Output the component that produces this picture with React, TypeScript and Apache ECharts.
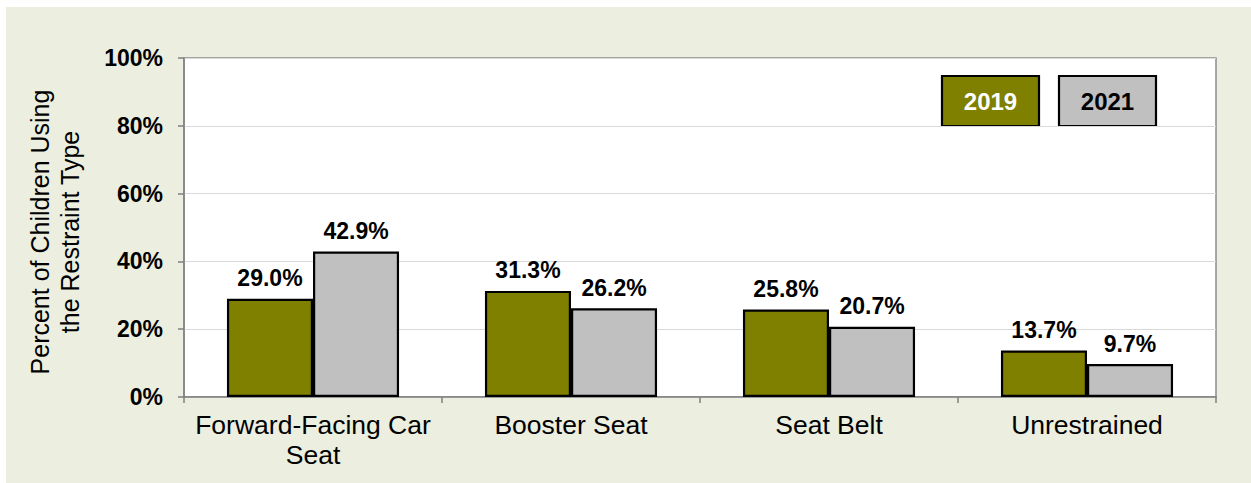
import React, { useEffect, useRef } from "react";
import * as echarts from "echarts";

const categories = ["Forward-Facing Car\nSeat", "Booster Seat", "Seat Belt", "Unrestrained"];
const seriesNames = ["2019", "2021"];
const values2019 = [29.0, 31.3, 25.8, 13.7];
const values2021 = [42.9, 26.2, 20.7, 9.7];
const yTicks = [0, 20, 40, 60, 80, 100];
const axisTitle = "Percent of Children Using\nthe Restraint Type";

const FONT = "'Liberation Sans', Arial, sans-serif";
const OLIVE = "#808000";
const GRAY = "#C0C0C0";

export default function App() {
  const ref = useRef<HTMLDivElement>(null);
  useEffect(() => {
    if (!ref.current) return;
    const chart = echarts.init(ref.current, undefined, { renderer: "svg" });
    const labelCfg = {
      show: true,
      position: "top",
      distance: 9,
      fontFamily: FONT,
      fontWeight: "bold",
      fontSize: 23,
      color: "#000",
      formatter: (p: any) => Number(p.value).toFixed(1) + "%",
    };
    chart.setOption({
      animation: false,
      backgroundColor: "#ECEEDF",
      grid: {
        left: 178,
        top: 51,
        right: 35,
        bottom: 86,
        show: true,
        backgroundColor: "#FFFFFF",
        borderColor: "#8C8C8C",
        borderWidth: 1.5,
      },
      xAxis: {
        type: "category",
        data: categories,
        axisLine: { show: true, lineStyle: { color: "#808080", width: 1.5 } },
        axisTick: { show: true, length: 6, alignWithLabel: false, lineStyle: { color: "#808080", width: 1.5 } },
        axisLabel: {
          fontFamily: FONT,
          fontSize: 26.5,
          color: "#000",
          margin: 13,
          lineHeight: 30,
          interval: 0,
        },
      },
      yAxis: {
        type: "value",
        min: yTicks[0],
        max: yTicks[yTicks.length - 1],
        interval: yTicks[1] - yTicks[0],
        axisLine: { show: true, lineStyle: { color: "#808080", width: 1.5 } },
        axisTick: { show: true, length: 6, lineStyle: { color: "#808080", width: 1.5 } },
        splitLine: { show: true, lineStyle: { color: "#D9D9D9", width: 1 } },
        axisLabel: {
          fontFamily: FONT,
          fontSize: 23,
          fontWeight: "bold",
          color: "#000",
          margin: 21,
          formatter: "{value}%",
        },
      },
      series: [
        {
          name: seriesNames[0],
          type: "bar",
          data: values2019,
          barGap: "0%",
          barCategoryGap: "33.3%",
          itemStyle: { color: OLIVE, borderColor: "#000", borderWidth: 2.2 },
          label: labelCfg,
        },
        {
          name: seriesNames[1],
          type: "bar",
          data: values2021,
          barGap: "0%",
          barCategoryGap: "33.3%",
          itemStyle: { color: GRAY, borderColor: "#000", borderWidth: 2.2 },
          label: labelCfg,
        },
      ],
      graphic: [
        {
          type: "text",
          x: 49,
          y: 225,
          rotation: Math.PI / 2,
          style: {
            text: axisTitle,
            fontFamily: FONT,
            fontSize: 25,
            lineHeight: 30,
            fill: "#000",
            align: "center",
            verticalAlign: "middle",
          },
        },
        {
          type: "group",
          children: [
            {
              type: "rect",
              shape: { x: 936, y: 69, width: 97, height: 50 },
              style: { fill: OLIVE, stroke: "#000", lineWidth: 2.2 },
            },
            {
              type: "text",
              x: 984.5,
              y: 94,
              style: {
                text: seriesNames[0],
                fontFamily: FONT,
                fontSize: 24,
                fontWeight: "bold",
                fill: "#FFFFFF",
                align: "center",
                verticalAlign: "middle",
              },
            },
            {
              type: "rect",
              shape: { x: 1053, y: 69, width: 97, height: 50 },
              style: { fill: GRAY, stroke: "#000", lineWidth: 2.2 },
            },
            {
              type: "text",
              x: 1101.5,
              y: 94,
              style: {
                text: seriesNames[1],
                fontFamily: FONT,
                fontSize: 24,
                fontWeight: "bold",
                fill: "#000",
                align: "center",
                verticalAlign: "middle",
              },
            },
          ],
        },
      ],
    });
    return () => chart.dispose();
  }, []);
  return (
    <div
      ref={ref}
      style={{ position: "absolute", left: 6, top: 7, width: 1245, height: 476 }}
    />
  );
}
